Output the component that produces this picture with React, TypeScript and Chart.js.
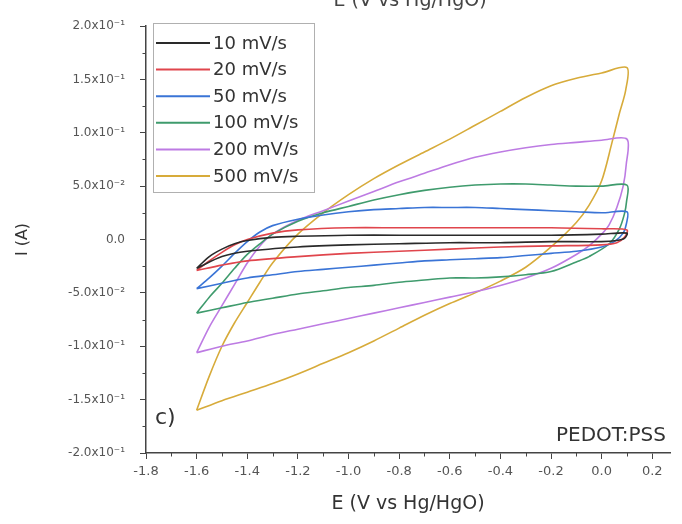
import React, { useEffect, useRef } from "react";
import { Chart, registerables } from "chart.js";

Chart.register(...registerables);

const FONT = "'DejaVu Sans', sans-serif";

const seriesLabels = ["10 mV/s", "20 mV/s", "50 mV/s", "100 mV/s", "200 mV/s", "500 mV/s"];
const seriesColors = ["#2a2a2a", "#e0454c", "#3a74d6", "#3f9b6d", "#bd7be3", "#d7ab3a"];

// 10 mV/s
const e10 = [-1.6, -1.55, -1.5, -1.45, -1.4, -1.3, -1.2, -1.0, -0.8, -0.6, -0.4, -0.2, 0.0, 0.1,
  0.09, 0.06, 0.0, -0.2, -0.4, -0.6, -0.8, -1.0, -1.2, -1.4, -1.5, -1.6];
const i10 = [-0.027, -0.016, -0.009, -0.004, -0.001, 0.002, 0.003, 0.004, 0.004, 0.004, 0.004, 0.004, 0.005, 0.006,
  0.001, -0.001, -0.002, -0.002, -0.003, -0.003, -0.004, -0.005, -0.007, -0.011, -0.016, -0.027];

// 20 mV/s
const e20 = [-1.6, -1.55, -1.5, -1.45, -1.4, -1.3, -1.2, -1.0, -0.8, -0.6, -0.4, -0.2, 0.0, 0.1,
  0.09, 0.06, 0.0, -0.2, -0.4, -0.6, -0.8, -1.0, -1.2, -1.4, -1.5, -1.6];
const i20 = [-0.029, -0.020, -0.012, -0.005, 0.000, 0.006, 0.009, 0.011, 0.011, 0.011, 0.011, 0.011, 0.010, 0.009,
  0.002, -0.003, -0.005, -0.006, -0.007, -0.009, -0.011, -0.013, -0.016, -0.020, -0.024, -0.029];

// 50 mV/s
const e50 = [-1.6, -1.55, -1.5, -1.45, -1.4, -1.35, -1.3, -1.2, -1.1, -1.0, -0.9, -0.8, -0.7, -0.6, -0.5, -0.4, -0.3, -0.2, -0.1, 0.0, 0.1,
  0.098, 0.085, 0.05, 0.0, -0.1, -0.2, -0.3, -0.4, -0.5, -0.6, -0.7, -0.8, -0.9, -1.0, -1.1, -1.2, -1.3, -1.4, -1.5, -1.6];
const i50 = [-0.046, -0.036, -0.025, -0.013, -0.002, 0.007, 0.013, 0.019, 0.023, 0.026, 0.028, 0.029, 0.030, 0.030, 0.030, 0.029, 0.028, 0.027, 0.026, 0.025, 0.026,
  0.015, 0.006, -0.002, -0.007, -0.011, -0.013, -0.015, -0.017, -0.018, -0.019, -0.020, -0.022, -0.024, -0.026, -0.028, -0.030, -0.033, -0.036, -0.041, -0.046];

// 100 mV/s
const e100 = [-1.6, -1.55, -1.5, -1.45, -1.4, -1.35, -1.3, -1.2, -1.1, -1.0, -0.9, -0.8, -0.7, -0.6, -0.5, -0.4, -0.3, -0.2, -0.1, 0.0, 0.1,
  0.098, 0.09, 0.07, 0.03, -0.05, -0.1, -0.2, -0.3, -0.4, -0.5, -0.6, -0.7, -0.8, -0.9, -1.0, -1.1, -1.2, -1.3, -1.4, -1.5, -1.6];
const i100 = [-0.069, -0.054, -0.041, -0.027, -0.014, -0.004, 0.005, 0.017, 0.025, 0.031, 0.037, 0.042, 0.046, 0.049, 0.051, 0.052, 0.052, 0.051, 0.050, 0.050, 0.051,
  0.035, 0.024, 0.010, -0.004, -0.016, -0.021, -0.030, -0.033, -0.035, -0.036, -0.036, -0.038, -0.040, -0.043, -0.045, -0.048, -0.051, -0.055, -0.059, -0.064, -0.069];

// 200 mV/s
const e200 = [-1.6, -1.55, -1.5, -1.45, -1.4, -1.35, -1.3, -1.2, -1.1, -1.0, -0.9, -0.8, -0.7, -0.6, -0.5, -0.4, -0.3, -0.2, -0.1, 0.0, 0.1,
  0.097, 0.085, 0.06, 0.03, 0.0, -0.05, -0.1, -0.2, -0.3, -0.4, -0.5, -0.6, -0.7, -0.8, -0.9, -1.0, -1.1, -1.2, -1.3, -1.4, -1.5, -1.6];
const i200 = [-0.106, -0.082, -0.062, -0.042, -0.022, -0.006, 0.005, 0.018, 0.027, 0.036, 0.045, 0.054, 0.062, 0.070, 0.077, 0.082, 0.086, 0.089, 0.091, 0.093, 0.094,
  0.070, 0.050, 0.030, 0.014, 0.005, -0.006, -0.014, -0.027, -0.036, -0.043, -0.049, -0.054, -0.059, -0.064, -0.069, -0.074, -0.079, -0.084, -0.089, -0.095, -0.100, -0.106];

// 500 mV/s
const e500 = [-1.6, -1.55, -1.5, -1.45, -1.4, -1.35, -1.3, -1.2, -1.1, -1.0, -0.9, -0.8, -0.7, -0.6, -0.5, -0.4, -0.3, -0.2, -0.1, 0.0, 0.1,
  0.095, 0.07, 0.04, 0.0, -0.05, -0.1, -0.2, -0.3, -0.4, -0.5, -0.6, -0.7, -0.8, -0.9, -1.0, -1.1, -1.2, -1.3, -1.4, -1.5, -1.6];
const i500 = [-0.160, -0.128, -0.100, -0.078, -0.059, -0.040, -0.022, 0.005, 0.025, 0.042, 0.057, 0.070, 0.082, 0.094, 0.107, 0.120, 0.133, 0.144, 0.151, 0.156, 0.161,
  0.140, 0.118, 0.090, 0.055, 0.032, 0.016, -0.007, -0.026, -0.039, -0.050, -0.060, -0.071, -0.083, -0.095, -0.106, -0.116, -0.126, -0.135, -0.143, -0.151, -0.160];

const seriesE = [e10, e20, e50, e100, e200, e500];
const seriesI = [i10, i20, i50, i100, i200, i500];

const xTickValues = [-1.8, -1.6, -1.4, -1.2, -1.0, -0.8, -0.6, -0.4, -0.2, 0.0, 0.2];
const xMinorTicks = [-1.7, -1.5, -1.3, -1.1, -0.9, -0.7, -0.5, -0.3, -0.1, 0.1];
const yTickValues = [-0.2, -0.15, -0.1, -0.05, 0, 0.05, 0.1, 0.15, 0.2];
const yTickLabels = ["-2.0x10\u207B\u00B9", "-1.5x10\u207B\u00B9", "-1.0x10\u207B\u00B9", "-5.0x10\u207B\u00B2", "0.0",
  "5.0x10\u207B\u00B2", "1.0x10\u207B\u00B9", "1.5x10\u207B\u00B9", "2.0x10\u207B\u00B9"];
const yMinorTicks = [-0.175, -0.125, -0.075, -0.025, 0.025, 0.075, 0.125, 0.175];

const xTitle = "E (V vs Hg/HgO)";
const yTitle = "I (A)";
const panelLabel = "c)";
const materialLabel = "PEDOT:PSS";

const decorPlugin = {
  id: "decor",
  afterDraw(chart: any) {
    const { ctx, chartArea, scales } = chart;
    const x = scales.x;
    const y = scales.y;
    ctx.save();
    // minor ticks
    ctx.strokeStyle = "#444";
    ctx.lineWidth = 1;
    xMinorTicks.forEach((v) => {
      const px = Math.round(x.getPixelForValue(v)) + 0.5;
      ctx.beginPath();
      ctx.moveTo(px, chartArea.bottom);
      ctx.lineTo(px, chartArea.bottom + 3.5);
      ctx.stroke();
    });
    yMinorTicks.forEach((v) => {
      const py = Math.round(y.getPixelForValue(v)) + 0.5;
      ctx.beginPath();
      ctx.moveTo(chartArea.left, py);
      ctx.lineTo(chartArea.left - 3.5, py);
      ctx.stroke();
    });

    // legend
    ctx.strokeStyle = "#b0b0b0";
    ctx.lineWidth = 1;
    ctx.strokeRect(153.5, 23.5, 161, 169);
    ctx.font = `18px ${FONT}`;
    ctx.textBaseline = "middle";
    ctx.textAlign = "left";
    chart.data.datasets.forEach((ds: any, k: number) => {
      const ly = 43 + k * 26.6;
      ctx.strokeStyle = ds.borderColor;
      ctx.lineWidth = 2;
      ctx.beginPath();
      ctx.moveTo(156, ly);
      ctx.lineTo(210, ly);
      ctx.stroke();
      ctx.fillStyle = "#333";
      ctx.fillText(ds.label, 213, ly + 1);
    });

    // panel label and material
    ctx.fillStyle = "#333";
    ctx.textBaseline = "alphabetic";
    ctx.font = `22px ${FONT}`;
    ctx.textAlign = "left";
    ctx.fillText(panelLabel, 155, 424);
    ctx.font = `20px ${FONT}`;
    ctx.textAlign = "right";
    ctx.fillText(materialLabel, 666, 441);

    // cut-off title at the very top
    ctx.font = `19px ${FONT}`;
    ctx.textAlign = "center";
    ctx.fillStyle = "#444";
    ctx.fillText(xTitle, 410, 6);
    ctx.restore();
  },
};

export default function App() {
  const ref = useRef<HTMLCanvasElement | null>(null);
  useEffect(() => {
    if (!ref.current) return;
    const datasets = seriesLabels.map((label, k) => ({
      label,
      data: seriesE[k].map((e, j) => ({ x: e, y: seriesI[k][j] })),
      borderColor: seriesColors[k],
      backgroundColor: seriesColors[k],
      borderWidth: 1.6,
      pointRadius: 0,
      showLine: true,
      fill: false,
      tension: 0.3,
    }));
    const chart = new Chart(ref.current, {
      type: "scatter",
      data: { datasets },
      options: {
        animation: false,
        responsive: false,
        events: [],
        layout: { padding: { left: 0, top: 26, right: 12, bottom: 0 } },
        plugins: { legend: { display: false }, tooltip: { enabled: false } },
        scales: {
          x: {
            type: "linear",
            min: -1.8,
            max: 0.27,
            afterBuildTicks: (s: any) => {
              s.ticks = xTickValues.map((v) => ({ value: v }));
            },
            afterFit: (s: any) => {
              s.height = 71;
            },
            grid: { drawOnChartArea: false, drawTicks: true, tickLength: 6, tickColor: "#444", tickWidth: 1 },
            border: { display: true, color: "#444", width: 1.5 },
            ticks: {
              padding: 5,
              color: "#555",
              font: { family: FONT, size: 13 },
              callback: (v: any) => Number(v).toFixed(1),
            },
            title: {
              display: true,
              text: xTitle,
              color: "#333",
              font: { family: FONT, size: 19 },
              padding: { top: 0, bottom: 9 },
            },
          },
          y: {
            type: "linear",
            min: -0.2,
            max: 0.2,
            afterBuildTicks: (s: any) => {
              s.ticks = yTickValues.map((v) => ({ value: v }));
            },
            afterFit: (s: any) => {
              s.width = 146;
            },
            grid: { drawOnChartArea: false, drawTicks: true, tickLength: 6, tickColor: "#444", tickWidth: 1 },
            border: { display: true, color: "#444", width: 1.5 },
            ticks: {
              padding: 15,
              color: "#555",
              font: { family: FONT, size: 12 },
              callback: (v: any) => {
                const idx = yTickValues.findIndex((t) => Math.abs(t - Number(v)) < 1e-9);
                return idx >= 0 ? yTickLabels[idx] : "";
              },
            },
            title: {
              display: true,
              text: yTitle,
              color: "#333",
              font: { family: FONT, size: 16 },
              padding: { top: 13, bottom: 0 },
            },
          },
        },
      },
      plugins: [decorPlugin],
    });
    return () => chart.destroy();
  }, []);
  return (
    <div style={{ position: "fixed", left: 0, top: 0, width: 682, height: 524, background: "#fff" }}>
      <canvas ref={ref} width={682} height={524} style={{ display: "block" }} />
    </div>
  );
}
